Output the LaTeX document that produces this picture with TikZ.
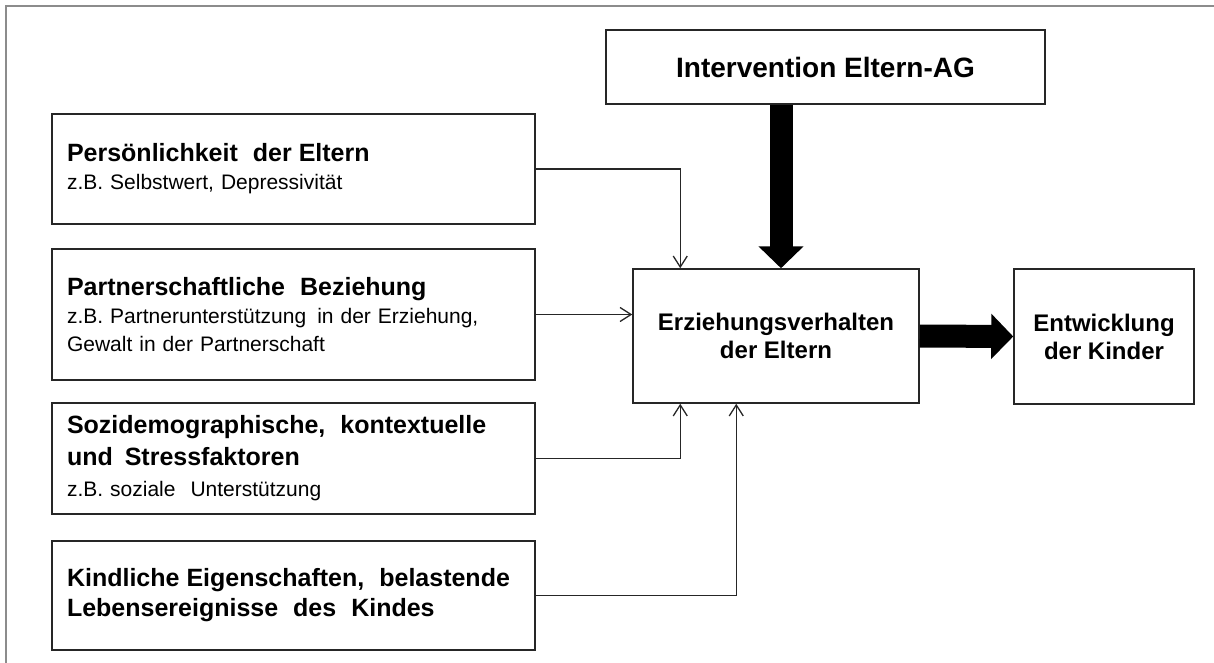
\documentclass[tikz,border=0pt]{standalone}
\usepackage{fontspec}
\setmainfont{Liberation Sans}
\usetikzlibrary{arrows.meta,calc}
\newcommand\wsp{\hspace{8pt}}
\newcommand\ttl[1]{{\bfseries\fontsize{25}{28}\selectfont #1}}
\begin{document}
\begin{tikzpicture}[x=1pt,y=-1pt,
  box/.style={draw=black!85, line width=1.5pt, rectangle, inner sep=0pt, text=black},
  leftbox/.style={box, minimum width=483pt, inner xsep=15pt, text width=453pt, align=left,
    font=\fontsize{21}{28}\selectfont},
  centbox/.style={box, align=center, font=\bfseries\fontsize{24}{28}\selectfont},
  conn/.style={draw=black!85, line width=1.3pt, -{Straight Barb[length=11pt,width=14pt]}},
  bigarrow/.style={draw=black, line width=23pt, -{Triangle[length=22pt,width=44pt]}},
  framel/.style={draw=black!45, line width=2pt}
]
\useasboundingbox (0,0) rectangle (1214,663);
\draw[framel] (6,663) -- (6,6) -- (1214,6);

\node[box, minimum width=439pt, minimum height=74pt, font=\bfseries\fontsize{28}{34}\selectfont] (interv) at (825.5,67) {Intervention Eltern-AG};

\node[leftbox, minimum height=110pt] (pers) at (293.5,169)
  {\ttl{Persönlichkeit\wsp{} der Eltern}\\z.B. Selbstwert, Depressivität};
\node[leftbox, minimum height=131pt] (partner) at (293.5,314.5)
  {\ttl{Partnerschaftliche\wsp{} Beziehung}\\z.B. Partnerunterstützung\hspace{4pt} in der Erziehung,\\Gewalt in der Partnerschaft};
\node[leftbox, minimum height=111pt] (sozio) at (293.5,458.5)
  {\ttl{Sozidemographische,\wsp{} kontextuelle}\\[4pt]\ttl{und\hspace{5pt} Stressfaktoren}\\[3pt]z.B. soziale\wsp{} Unterstützung};
\node[leftbox, minimum height=109pt] (kind) at (293.5,595.5)
  {\ttl{Kindliche Eigenschaften,\wsp{} belastende}\\[2pt]\ttl{Lebensereignisse\wsp{} des\wsp{} Kindes}};

\node[centbox, minimum width=286pt, minimum height=134pt] (erz) at (776,336) {Erziehungsverhalten\\der Eltern};
\node[centbox, minimum width=180pt, minimum height=135pt] (entw) at (1104,336.5) {Entwicklung\\der Kinder};

\coordinate (tipd) at ([xshift=5pt]erz.north);
\draw[bigarrow] (interv.south -| tipd) -- (tipd);
\draw[bigarrow] (erz.east) -- (entw.west);

\draw[conn] (pers.east) -| ([xshift=48pt]erz.north west);
\draw[conn] (partner.east) -- (partner.east -| erz.west);
\draw[conn] (sozio.east) -| ([xshift=48pt]erz.south west);
\draw[conn] (kind.east) -| ([xshift=104pt]erz.south west);
\end{tikzpicture}
\end{document}
